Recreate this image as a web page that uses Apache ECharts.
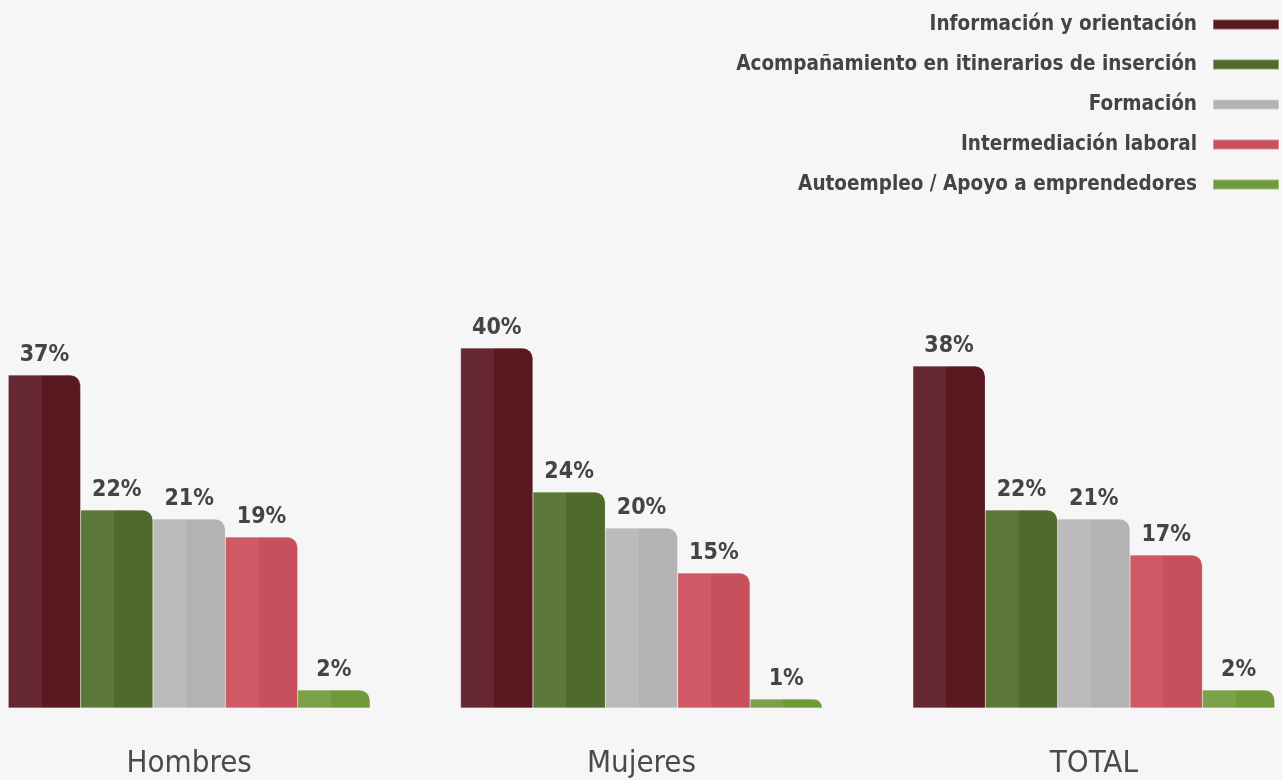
<!DOCTYPE html>
<html><head><meta charset="utf-8">
<script src="https://cdn.jsdelivr.net/npm/echarts@6/dist/echarts.min.js"></script>
<style>html,body{margin:0;padding:0;background:#f6f6f6}#c{width:1282px;height:780px}</style>
</head><body><div id="c"></div>
<script>
const categories = ['Hombres', 'Mujeres', 'TOTAL'];
const seriesNames = ['Información y orientación', 'Acompañamiento en itinerarios de inserción', 'Formación', 'Intermediación laboral', 'Autoempleo / Apoyo a emprendedores'];
const infoOrientacion = [37, 40, 38];
const acompanamiento = [22, 24, 22];
const formacion = [21, 20, 21];
const intermediacion = [19, 15, 17];
const autoempleo = [2, 1, 2];
const values = [infoOrientacion, acompanamiento, formacion, intermediacion, autoempleo];
const baseColors = ['#5a1820', '#4f6a2a', '#b3b3b3', '#c84f5c', '#6e9a3a'];
const lightColors = ['#652731', '#5c7839', '#bbbbbb', '#cf5a66', '#7ba149'];
const FONT = '"DejaVu Sans Condensed", "Liberation Sans Narrow", sans-serif';

const chart = echarts.init(document.getElementById('c'));
chart.setOption({
  backgroundColor: '#f6f6f6',
  animation: false,
  color: baseColors,
  legend: {
    orient: 'vertical', right: 2, top: 14, align: 'right', padding: 0,
    icon: 'rect', itemWidth: 66, itemHeight: 10, itemGap: 19,
    textStyle: { fontFamily: FONT, fontWeight: 'bold', fontSize: 20.5, color: '#444', padding: [0, 11, 0, 0] },
    data: seriesNames.map((n, i) => ({ name: n, itemStyle: { color: baseColors[i] } }))
  },
  grid: { left: -37, width: 1357, top: 258, bottom: 72, outerBoundsMode: 'none', containLabel: false },
  xAxis: {
    type: 'category', data: categories,
    axisLine: { show: false }, axisTick: { show: false },
    axisLabel: { fontFamily: FONT, fontSize: 31, color: '#4a4a4a', margin: 40 }
  },
  yAxis: { type: 'value', min: 0, max: 50, show: false, splitLine: { show: false } },
  series: seriesNames.map((name, i) => ({
    name, type: 'bar', data: values[i],
    barGap: '0%', barCategoryGap: '20%',
    itemStyle: {
      color: new echarts.graphic.LinearGradient(0, 0, 1, 0, [
        { offset: 0, color: lightColors[i] },
        { offset: 0.46, color: lightColors[i] },
        { offset: 0.461, color: baseColors[i] },
        { offset: 1, color: baseColors[i] }
      ]),
      borderRadius: [0, 10, 0, 0],
      borderColor: 'rgba(255,255,255,0.35)', borderWidth: 0.5
    },
    label: {
      show: true, position: 'top', distance: 8,
      formatter: '{c}%', fontFamily: FONT, fontWeight: 'bold', fontSize: 23, color: '#444'
    }
  }))
});
</script></body></html>
